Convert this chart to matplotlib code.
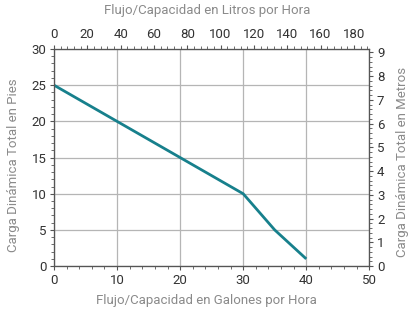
import matplotlib
matplotlib.use("Agg")
import matplotlib.pyplot as plt
from matplotlib.ticker import MultipleLocator

gph = [0, 10, 20, 30, 35, 40]
head_ft = [25, 20, 15, 10, 5, 1]

GAL_TO_L = 3.78541
FT_TO_M = 0.3048
X_MAX, Y_MAX = 50, 30

plt.rcParams['font.family'] = ['Roboto', 'DejaVu Sans']
gray = '#8a8a8a'
tickc = '#333333'

fig = plt.figure(figsize=(4.16, 3.12), dpi=100)
ax = fig.add_axes([0.1298, 0.147, 0.758, 0.696])
ax.plot(gph, head_ft, color='#17808c', lw=2.0, solid_capstyle='butt', zorder=3)
ax.set_xlim(0, X_MAX)
ax.set_ylim(0, Y_MAX)
ax.xaxis.set_major_locator(MultipleLocator(10))
ax.xaxis.set_minor_locator(MultipleLocator(2))
ax.yaxis.set_major_locator(MultipleLocator(5))
ax.yaxis.set_minor_locator(MultipleLocator(1))
ax.grid(True, which='major', color='#b5b5b5', lw=0.9)
ax.tick_params(which='both', direction='out', colors='#555555', labelcolor=tickc, labelsize=9.5,
               top=False, right=False)
ax.tick_params(which='major', length=3, pad=2.5)
ax.tick_params(which='minor', length=2.5)

top = ax.twiny()
top.set_xlim(0, X_MAX * GAL_TO_L)
top.xaxis.set_major_locator(MultipleLocator(20))
top.xaxis.set_minor_locator(MultipleLocator(4))
top.tick_params(which='both', direction='out', colors='#555555', labelcolor=tickc, labelsize=9.5)
top.tick_params(which='major', length=3, pad=2.5)
top.tick_params(which='minor', length=2.5)

right = ax.twinx()
right.set_ylim(0, Y_MAX * FT_TO_M)
right.yaxis.set_major_locator(MultipleLocator(1))
right.yaxis.set_minor_locator(MultipleLocator(0.2))
right.tick_params(which='both', direction='out', colors='#555555', labelcolor=tickc, labelsize=9.5)
right.tick_params(which='major', length=3, pad=2.5)
right.tick_params(which='minor', length=2.5)

for a in (ax, top, right):
    for s in a.spines.values():
        s.set_color('#555555')
        s.set_linewidth(0.8)

fig.text(0.497, 0.966, 'Flujo/Capacidad en Litros por Hora', ha='center', va='center', color=gray, fontsize=9.5)
fig.text(0.497, 0.038, 'Flujo/Capacidad en Galones por Hora', ha='center', va='center', color=gray, fontsize=9.5)
fig.text(0.032, 0.47, 'Carga Dinámica Total en Pies', ha='center', va='center', rotation=90, color=gray, fontsize=9.5)
fig.text(0.968, 0.48, 'Carga Dinámica Total en Metros', ha='center', va='center', rotation=90, color=gray, fontsize=9.5)

fig.savefig('out.png', dpi=100)
